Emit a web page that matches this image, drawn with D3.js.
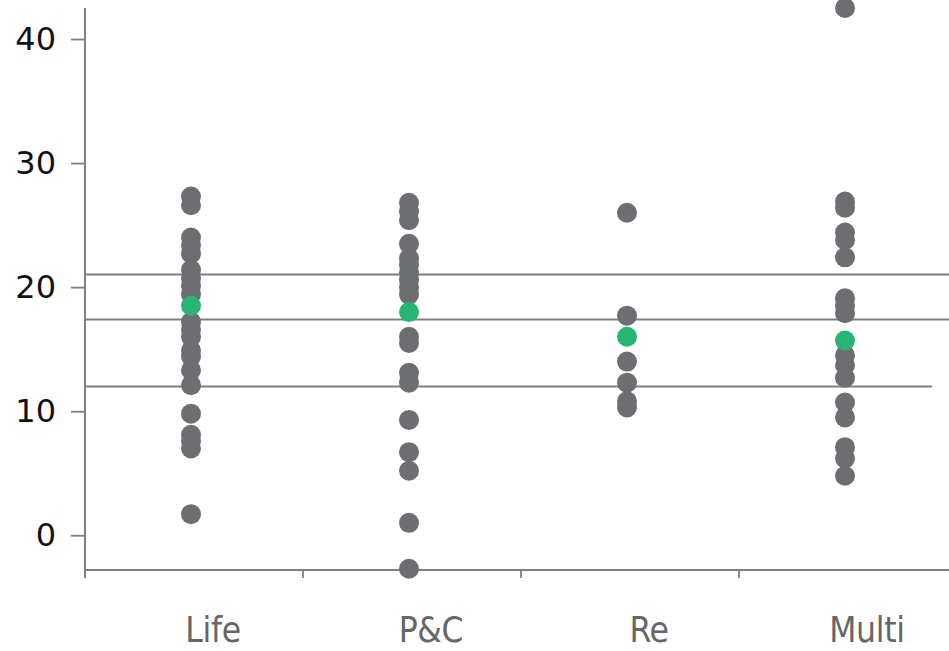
<!DOCTYPE html>
<html>
<head>
<meta charset="utf-8">
<script src="https://cdn.jsdelivr.net/npm/d3@7"></script>
<style>
  html, body { margin: 0; padding: 0; background: #fff; }
  svg { display: block; }
</style>
</head>
<body>
<svg id="chart" width="949" height="651"></svg>
<script>
const categories = ["Life", "P&C", "Re", "Multi"];
const lifeValues  = [27.3, 26.6, 24.0, 23.4, 22.7, 21.4, 20.7, 20.1, 19.4, 17.2, 16.6, 16.0, 14.9, 14.4, 13.3, 12.1, 9.8, 8.1, 7.6, 7.0, 1.7];
const pcValues    = [26.8, 26.1, 25.4, 23.5, 22.3, 21.8, 21.2, 20.6, 20.0, 19.4, 16.0, 15.5, 13.1, 12.3, 9.3, 6.7, 5.2, 1.0, -2.7];
const reValues    = [26.0, 17.7, 14.0, 12.3, 10.8, 10.3];
const multiValues = [42.5, 26.9, 26.4, 24.4, 23.8, 22.4, 19.1, 18.5, 17.9, 14.5, 13.7, 12.7, 10.7, 9.5, 7.1, 6.2, 4.8];
const averageValues = [18.5, 18.0, 16.0, 15.7];
const referenceLines = [21.05, 17.45, 12.0];
const yTicks = [0, 10, 20, 30, 40];

const seriesByCategory = [lifeValues, pcValues, reValues, multiValues];

const svg = d3.select("#chart");
const W = 949;
const axisColor = "#7f7f7f";
const dotColor = "#6d6e71";
const avgColor = "#27b574";

const x = d3.scaleBand().domain(categories).range([85, 957]).padding(0);
const y = d3.scaleLinear().domain([-2.8, 42.5]).range([570, 8]);

// Reference horizontal lines
svg.append("g").selectAll("line").data(referenceLines).join("line")
  .attr("x1", 85)
  .attr("x2", (d, i) => i === referenceLines.length - 1 ? W - 17 : W)
  .attr("y1", d => Math.round(y(d)) + 0.5)
  .attr("y2", d => Math.round(y(d)) + 0.5)
  .attr("stroke", axisColor)
  .attr("stroke-width", 1.8);

// Y axis
const yAxis = svg.append("g").attr("transform", "translate(85,0)")
  .call(d3.axisLeft(y).tickValues(yTicks).tickSize(14).tickPadding(15).tickFormat(d3.format("d")));
yAxis.select(".domain").remove();
yAxis.selectAll(".tick line").attr("stroke", axisColor).attr("stroke-width", 1.8);
yAxis.selectAll(".tick text")
  .attr("fill", "#111111")
  .style("font-family", "'DejaVu Sans', Verdana, sans-serif")
  .style("font-size", "32px");
svg.append("line")
  .attr("x1", 85).attr("x2", 85)
  .attr("y1", 8).attr("y2", 578)
  .attr("stroke", axisColor).attr("stroke-width", 2);

// X axis
svg.append("line")
  .attr("x1", 85).attr("x2", W)
  .attr("y1", 570).attr("y2", 570)
  .attr("stroke", axisColor).attr("stroke-width", 2);
svg.append("g").selectAll("line").data(categories).join("line")
  .attr("x1", d => x(d)).attr("x2", d => x(d))
  .attr("y1", 570).attr("y2", 578)
  .attr("stroke", axisColor).attr("stroke-width", 1.8);
svg.append("g").selectAll("text").data(categories).join("text")
  .attr("x", d => x(d) + x.bandwidth() / 2 + 19)
  .attr("y", 642)
  .attr("text-anchor", "middle")
  .attr("fill", "#666666")
  .style("font-family", "'DejaVu Sans Condensed', 'Liberation Sans Narrow', sans-serif")
  .style("font-size", "35px")
  .style("letter-spacing", "-0.3px")
  .text(d => d);

// Dots
const cx = c => x(c) + x.bandwidth() / 2 - 3;
const points = [];
categories.forEach((c, i) => seriesByCategory[i].forEach(v => points.push({ c, v })));
svg.append("g").selectAll("circle").data(points).join("circle")
  .attr("cx", d => cx(d.c))
  .attr("cy", d => y(d.v))
  .attr("r", 10)
  .attr("fill", dotColor);

svg.append("g").selectAll("circle").data(categories).join("circle")
  .attr("cx", d => cx(d))
  .attr("cy", (d, i) => y(averageValues[i]))
  .attr("r", 10)
  .attr("fill", avgColor);
</script>
</body>
</html>
